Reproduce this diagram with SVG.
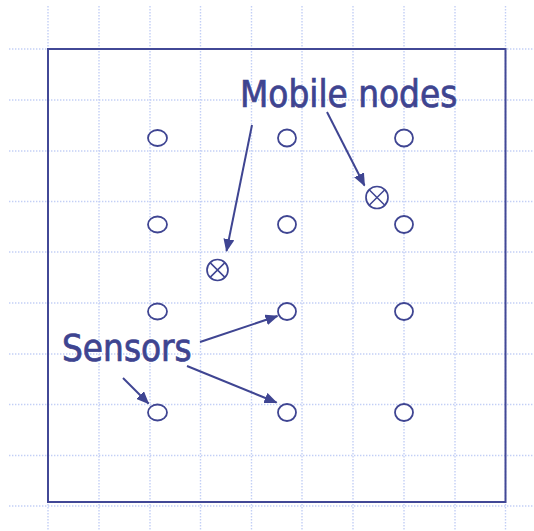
<svg xmlns="http://www.w3.org/2000/svg" width="534" height="531" viewBox="0 0 534 531">
  <style>
    .grid line { stroke: #c3cff6; stroke-width: 1.4; stroke-dasharray: 1.4 1.6; }
    .frame { fill: none; stroke: #424896; stroke-width: 2; }
    .sensor ellipse { fill: #fff; stroke: #3f4592; stroke-width: 1.8; }
    .mobile circle { fill: #fff; stroke: #3f4592; stroke-width: 1.7; }
    .mobile path { stroke: #3f4592; stroke-width: 1.5; fill: none; }
    .label { font-family: "DejaVu Sans Condensed", "DejaVu Sans", sans-serif; font-size: 36.5px; fill: #3e4490; stroke: #3e4490; stroke-width: 0.7; }
    .conn line { stroke: #3f4592; stroke-width: 2; marker-end: url(#head); }
  </style>
  <defs>
    <marker id="head" viewBox="0 0 13 11" refX="12" refY="5.5" markerWidth="13" markerHeight="11" markerUnits="userSpaceOnUse" orient="auto">
      <path d="M0,0 L13,5.5 L0,11 Z" fill="#3f4592"/>
    </marker>
  </defs>
  <rect width="534" height="531" fill="#fff"/>

  <!-- dotted background grid -->
  <g class="grid">
    <line x1="9" y1="49" x2="534" y2="49"/>
    <line x1="9" y1="100" x2="534" y2="100"/>
    <line x1="9" y1="151" x2="534" y2="151"/>
    <line x1="9" y1="201.5" x2="534" y2="201.5"/>
    <line x1="9" y1="252" x2="534" y2="252"/>
    <line x1="9" y1="303" x2="534" y2="303"/>
    <line x1="9" y1="354" x2="534" y2="354"/>
    <line x1="9" y1="404.5" x2="534" y2="404.5"/>
    <line x1="9" y1="455.5" x2="534" y2="455.5"/>
    <line x1="9" y1="506" x2="534" y2="506"/>
    <line x1="48" y1="6" x2="48" y2="531"/>
    <line x1="99" y1="6" x2="99" y2="531"/>
    <line x1="150" y1="6" x2="150" y2="531"/>
    <line x1="200.5" y1="6" x2="200.5" y2="531"/>
    <line x1="251.5" y1="6" x2="251.5" y2="531"/>
    <line x1="302" y1="6" x2="302" y2="531"/>
    <line x1="353" y1="6" x2="353" y2="531"/>
    <line x1="404" y1="6" x2="404" y2="531"/>
    <line x1="455" y1="6" x2="455" y2="531"/>
    <line x1="505.5" y1="6" x2="505.5" y2="531"/>
  </g>

  <!-- field boundary -->
  <rect class="frame" x="48" y="49" width="457.5" height="453"/>

  <!-- static sensors -->
  <g id="s11" class="sensor"><ellipse cx="157.5" cy="138" rx="9.5" ry="8"/></g>
  <g id="s12" class="sensor"><ellipse cx="287" cy="138" rx="9" ry="8.5"/></g>
  <g id="s13" class="sensor"><ellipse cx="404" cy="138" rx="9" ry="8.5"/></g>
  <g id="s21" class="sensor"><ellipse cx="157.5" cy="224.5" rx="9.5" ry="8"/></g>
  <g id="s22" class="sensor"><ellipse cx="287" cy="224.5" rx="9" ry="8.5"/></g>
  <g id="s23" class="sensor"><ellipse cx="404" cy="224.5" rx="9" ry="8.5"/></g>
  <g id="s31" class="sensor"><ellipse cx="157.5" cy="311.5" rx="9.5" ry="8"/></g>
  <g id="s32" class="sensor"><ellipse cx="287" cy="311.5" rx="9" ry="8.5"/></g>
  <g id="s33" class="sensor"><ellipse cx="404" cy="311.5" rx="9" ry="8.5"/></g>
  <g id="s41" class="sensor"><ellipse cx="157.5" cy="412.5" rx="9.5" ry="8"/></g>
  <g id="s42" class="sensor"><ellipse cx="287" cy="412.5" rx="9" ry="8.5"/></g>
  <g id="s43" class="sensor"><ellipse cx="404" cy="412.5" rx="9" ry="8.5"/></g>

  <!-- mobile nodes -->
  <g id="m1" class="mobile">
    <circle cx="217.5" cy="270" r="10.5"/>
    <path d="M210.1,262.6 L224.9,277.4 M224.9,262.6 L210.1,277.4"/>
  </g>
  <g id="m2" class="mobile">
    <circle cx="377" cy="197.5" r="11"/>
    <path d="M369.2,189.7 L384.8,205.3 M384.8,189.7 L369.2,205.3"/>
  </g>

  <!-- labels -->
  <g id="lbl-mobile"><text class="label" x="240" y="107">Mobile nodes</text></g>
  <g id="lbl-sensors"><text class="label" x="62" y="361">Sensors</text></g>

  <!-- pointer arrows -->
  <g class="conn">
    <line x1="252" y1="125" x2="226.5" y2="251"/>
    <line x1="327" y1="112" x2="364.5" y2="185.5"/>
    <line x1="200" y1="342" x2="277.5" y2="316"/>
    <line x1="187" y1="366" x2="276.5" y2="402.5"/>
    <line x1="123" y1="378" x2="148.5" y2="403.5"/>
  </g>
</svg>
